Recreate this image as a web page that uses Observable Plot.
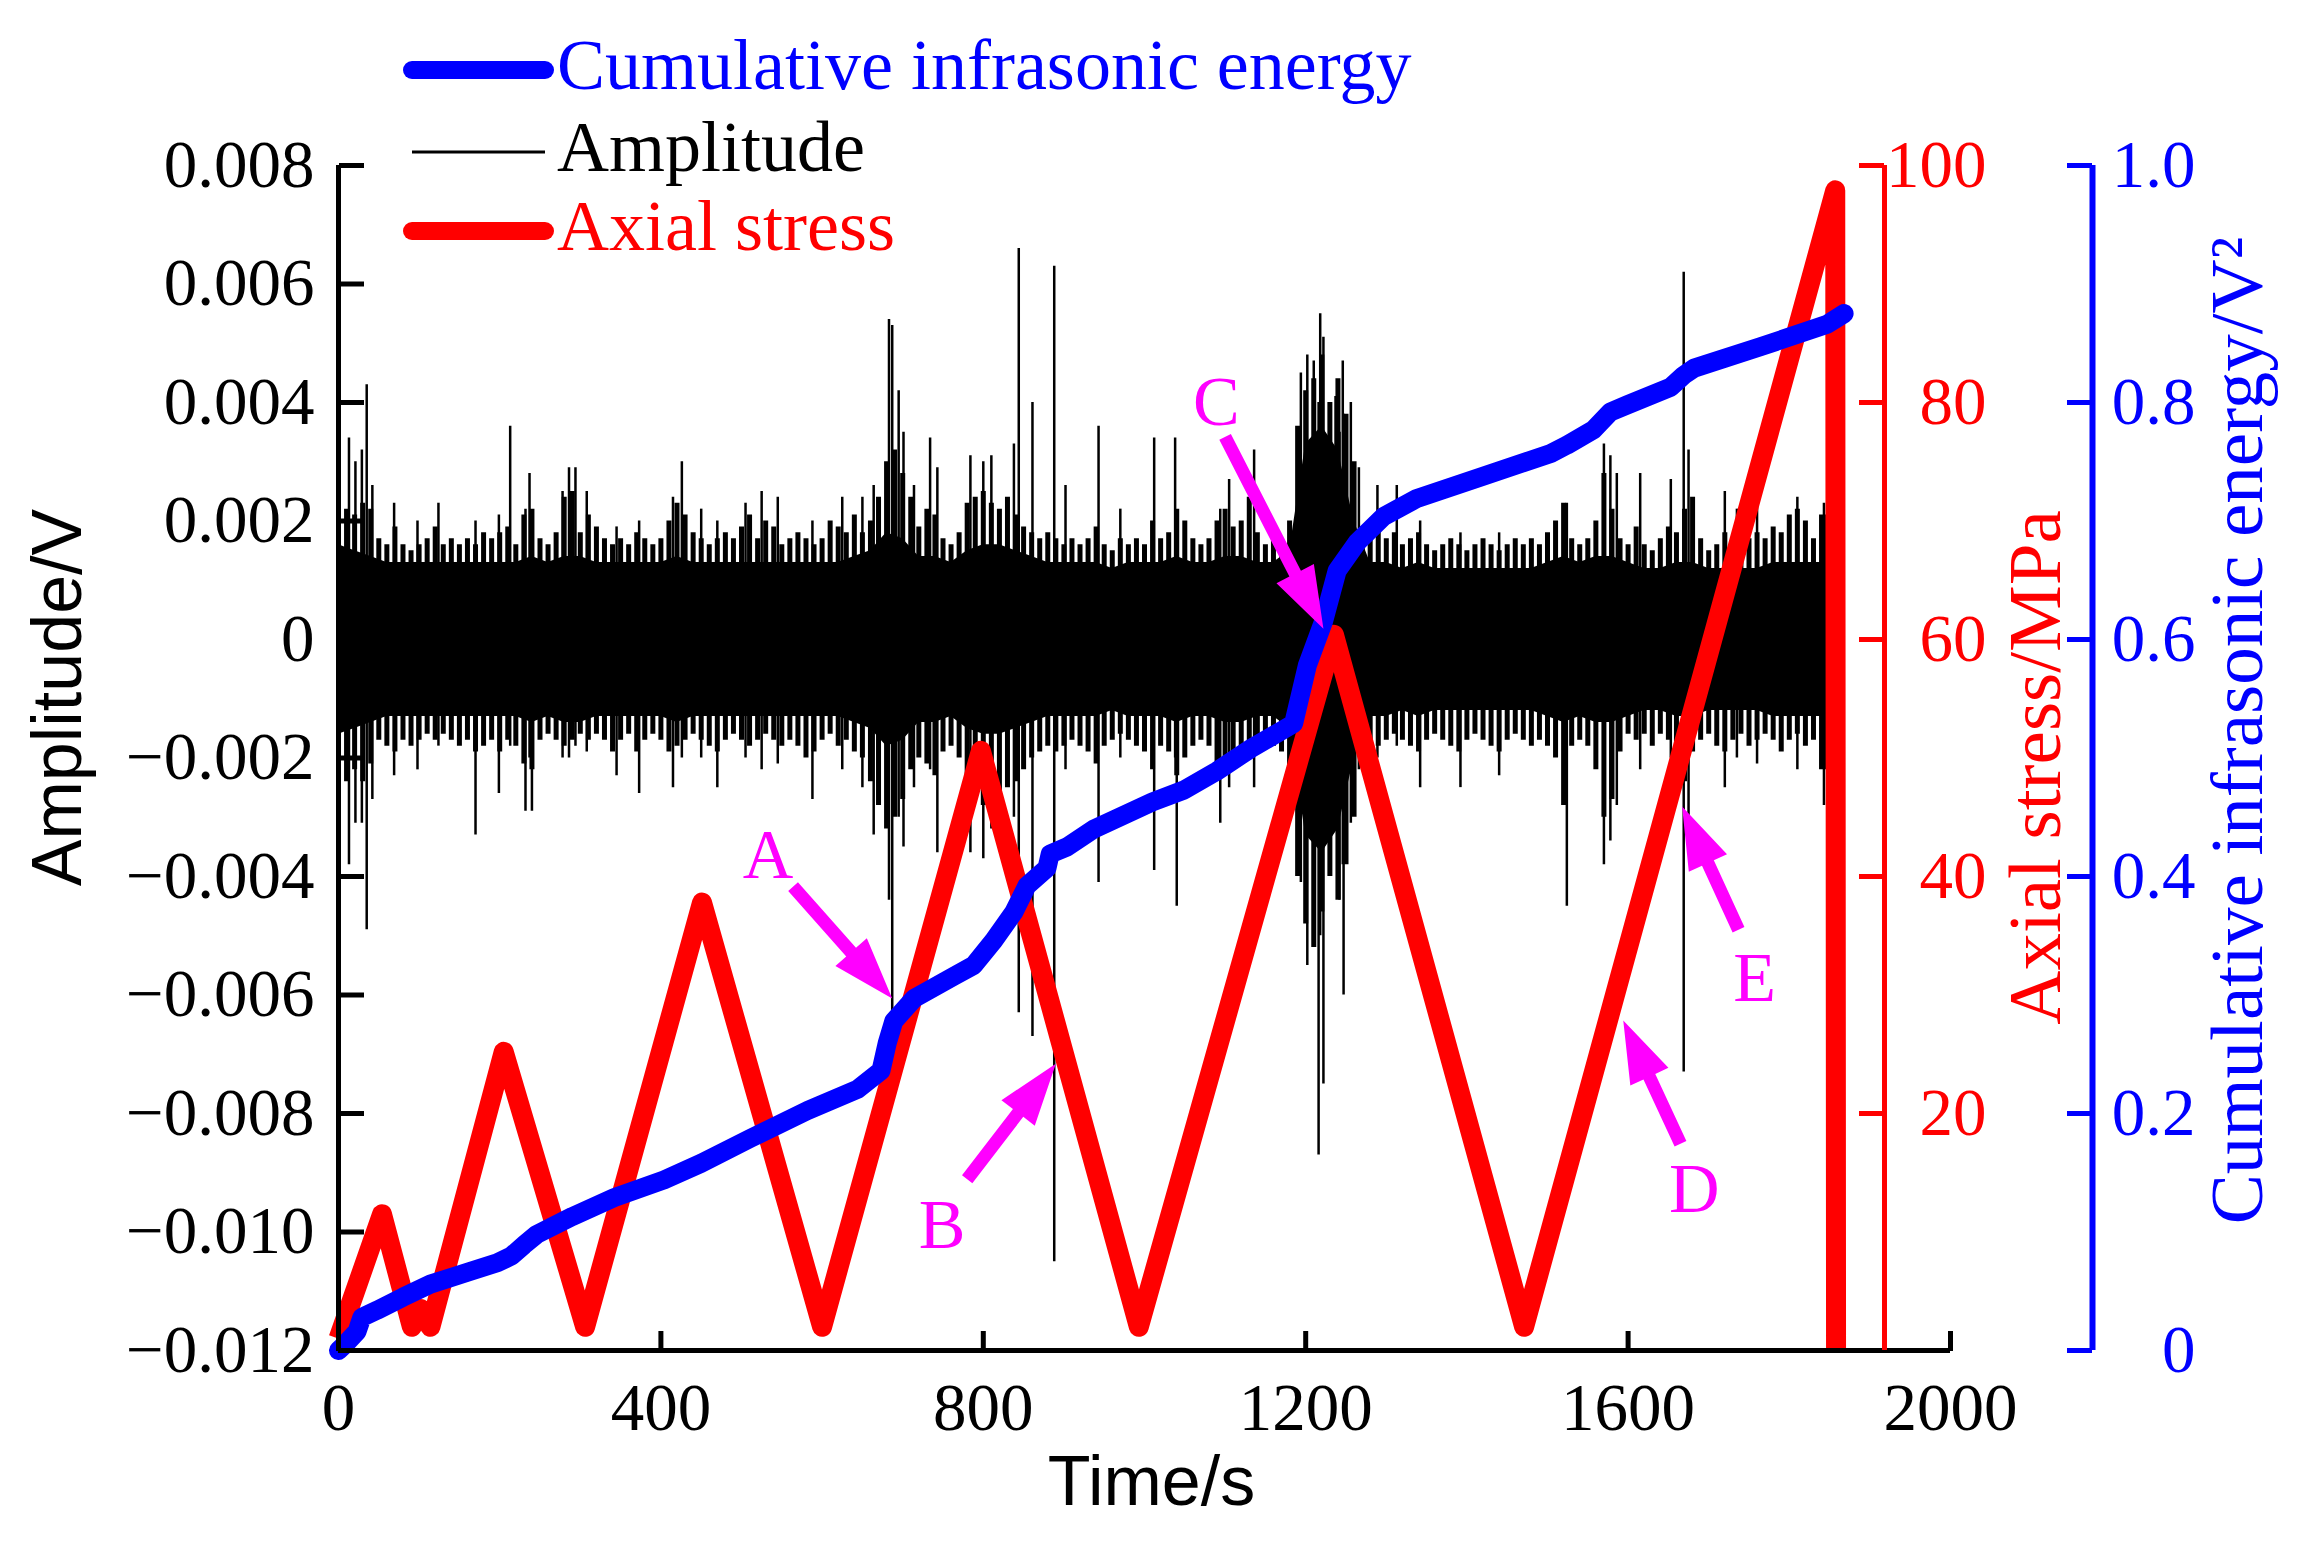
<!DOCTYPE html>
<html><head><meta charset="utf-8">
<script src="https://cdn.jsdelivr.net/npm/d3@7"></script>
<script src="https://cdn.jsdelivr.net/npm/@observablehq/plot@0.6"></script>
<style>html,body{margin:0;padding:0;background:#fff;overflow:hidden}#chart svg{display:block}</style>
</head><body><div id="chart"></div>
<script>
// ---------------- data ----------------
// Axial stress (MPa) vs time (s)
const stressT = [0, 54, 91, 102, 114, 205, 306, 451, 600, 797, 993, 1235, 1471, 1857, 1858];
const stressS = [1, 11.5, 2, 3.5, 2, 25.2, 2, 37.8, 2, 50.6, 2, 60.4, 2, 97.9, 0];
// Cumulative infrasonic energy (V^2) vs time (s)
const energyT = [0,8,23,29,48,80,114,160,197,215,230,246,290,342,404,450,511,582,644,673,681,689,714,764,788,813,838,854,879,883,904,937,1010,1049,1090,1132,1185,1202,1222,1239,1264,1297,1338,1421,1504,1524,1557,1578,1599,1653,1669,1682,1764,1847,1868];
const energyE = [0,0.005,0.016,0.028,0.034,0.045,0.056,0.066,0.074,0.080,0.089,0.098,0.113,0.129,0.144,0.158,0.179,0.2025,0.2205,0.236,0.260,0.278,0.297,0.316,0.325,0.346,0.370,0.392,0.407,0.419,0.425,0.440,0.463,0.473,0.489,0.508,0.529,0.578,0.615,0.658,0.682,0.704,0.719,0.738,0.757,0.764,0.777,0.792,0.798,0.813,0.823,0.829,0.847,0.866,0.875];
// Amplitude: half-width of the mostly-black core every 20 s from 0 s (units: 1e-4 V)
const coreHalf = [16,15,14,13,13,13,13,13,13,13, 13,13,14,13,14,14,13,13,13,13, 13,14,13,13,13,13,13,13,13,13,
 13,13,14,15,18,17,14,14,13,15, 16,16,15,14,13,13,13,13,12,13, 13,13,14,13,13,14,14,13,13,15,
 33,36,32,20,13,13,12,13,12,12, 12,12,12,12,12,13,14,13,14,14, 13,12,12,13,13,12,12,12,12,13, 13,13,13];
// Amplitude: fringe tips every 10 s from 0 s (units: 1e-4 V)
const envHigh = [19,22,21,23,22,17,16,19,16,15, 16,17,19,16,17,16,17,16,18,17, 18,19,16,21,22,17,16,18,24,25, 18,21,19,17,16,17,16,18,17,16,
 17,20,23,21,18,17,16,17,18,17, 19,21,17,20,19,16,17,18,17,16, 17,20,19,18,21,18,20,24,30,32, 28,24,19,22,21,17,16,18,23,24,
 25,23,22,24,21,19,18,17,18,17, 16,17,16,17,19,16,15,17,16,17, 16,20,17,18,22,20,17,16,17,20, 22,19,20,24,18,16,17,16,20,36,
 42,44,48,40,44,38,30,19,17,19, 17,18,16,17,18,16,15,16,17,16, 15,16,17,16,15,16,17,16,17,16, 18,20,23,17,16,17,20,28,22,17,
 16,19,16,15,17,19,18,22,24,17, 15,16,18,16,15,17,18,17,19,18, 21,22,20,17,21];
const envLow = [-20,-24,-22,-24,-21,-17,-18,-19,-17,-18, -17,-16,-17,-16,-17,-18,-17,-19,-18,-17, -19,-17,-18,-21,-22,-17,-16,-17,-18,-17, -16,-17,-16,-17,-19,-17,-16,-19,-17,-16,
 -17,-19,-18,-17,-16,-17,-18,-19,-17,-16, -17,-18,-17,-16,-17,-18,-17,-18,-20,-19, -17,-16,-18,-17,-19,-20,-24,-28,-32,-30, -27,-22,-20,-21,-23,-19,-18,-20,-25,-26,
 -28,-27,-26,-25,-24,-22,-20,-19,-18,-19, -18,-17,-18,-19,-21,-18,-17,-16,-17,-18, -19,-22,-18,-19,-23,-20,-18,-17,-18,-22, -21,-19,-18,-20,-19,-17,-18,-19,-22,-40,
 -48,-52,-46,-40,-44,-38,-30,-18,-17,-18, -17,-16,-17,-18,-19,-17,-16,-17,-18,-19, -17,-16,-17,-18,-19,-17,-16,-17,-18,-17, -18,-20,-28,-18,-17,-18,-22,-30,-27,-19,
 -16,-17,-16,-18,-16,-17,-18,-24,-19,-17, -16,-18,-19,-17,-16,-18,-17,-16,-17,-19, -17,-16,-18,-17,-22];
const envEndT = 1846;
// Individual amplitude spikes (time s, top and bottom in 1e-4 V)
const spikeT = [13,21,29,35,42,69,98,124,170,199,213,232,237,240,278,286,294,308,345,373,415,426,450,470,505,525,545,588,625,650,664,683,687,695,701,714,734,743,784,800,810,838,844,861,888,902,943,970,1012,1038,1040,1094,1105,1136,1194,1202,1210,1216,1218,1222,1237,1242,1246,1247,1256,1266,1289,1313,1342,1392,1440,1524,1570,1578,1586,1615,1653,1669,1675,1720,1735,1760,1810,1843];
const spikeHi = [34,30,32,43,26,23,20,23,20,21,36,22,28,20,25,29,29,25,19,20,24,30,22,20,23,25,24,20,24,24,26,54,53,42,35,26,34,29,31,30,31,33,66,40,63,26,36,22,34,34,20,22,27,32,45,48,47,40,55,51,41,35,47,38,40,29,26,26,20,18,18,23,33,31,28,28,27,62,32,25,22,23,24,23];
const spikeLo = [-38,-31,-31,-49,-27,-23,-22,-18,-33,-26,-18,-29,-20,-29,-20,-20,-18,-19,-23,-26,-25,-20,-20,-25,-20,-22,-21,-27,-22,-25,-33,-44,-64,-30,-35,-25,-22,-36,-36,-37,-32,-30,-63,-67,-105,-22,-41,-20,-39,-20,-45,-31,-25,-25,-41,-55,-48,-87,-50,-75,-30,-44,-38,-60,-31,-22,-20,-18,-25,-25,-23,-45,-38,-34,-28,-22,-20,-73,-30,-25,-20,-21,-22,-28];
// Annotations (time s, amplitude V)
const annLabel = ["A","B","C","D","E"];
const annTextT = [533, 749, 1089, 1682, 1757];
const annTextV = [-0.00365, -0.00989, 0.00399, -0.00928, -0.00573];
const annFromT = [564, 780, 1100, 1665, 1737];
const annFromV = [-0.00417, -0.00911, 0.00342, -0.00851, -0.00490];
const annToT = [687, 890, 1222, 1594, 1667];
const annToV = [-0.00606, -0.00716, 0.00018, -0.00643, -0.00282];
// Axes ticks and labels
const xTicks = [0, 400, 800, 1200, 1600, 2000];
const ampTicks = [0.008, 0.006, 0.004, 0.002, 0, -0.002, -0.004, -0.006, -0.008, -0.010, -0.012];
const ampTickLabels = ["0.008","0.006","0.004","0.002","0","\u22120.002","\u22120.004","\u22120.006","\u22120.008","\u22120.010","\u22120.012"];
const stressTicks = [20, 40, 60, 80, 100];
const energyTicks = [0, 0.2, 0.4, 0.6, 0.8, 1.0];
const energyTickLabels = ["0","0.2","0.4","0.6","0.8","1.0"];
const legendLabels = ["Cumulative infrasonic energy", "Amplitude", "Axial stress"];
const titleX = "Time/s", titleY = "Amplitude/V", titleStress = "Axial stress/MPa", titleEnergy = "Cumulative infrasonic energy/V\u00B2";

// ---------------- layout / style ----------------
const W = 2302, H = 1547, mL = 338, mR = 352, mT = 165, mB = 197;
const frameW = W - mL - mR, frameH = H - mT - mB;
const AMP_MIN = -0.012, AMP_MAX = 0.008, T_MAX = 2000;
const RED = "#ff0000", BLUE = "#0000ff", MAG = "#ff00ff";
const SERIF = "Liberation Serif", SANS = "Liberation Sans";
const RED_AXIS_PX = 1884, RED_LABEL_END = 1986, BLUE_AXIS_PX = 2092, BLUE_LABEL_END = 2195;
const kx = frameW / T_MAX, ky = frameH / (AMP_MAX - AMP_MIN);
const sToAmp = s => AMP_MIN + (s / 100) * (AMP_MAX - AMP_MIN);
const eToAmp = e => AMP_MIN + e * (AMP_MAX - AMP_MIN);

// ---------------- tables ----------------
const stress = stressT.map((t, i) => ({t, v: sToAmp(stressS[i])}));
const energy = energyT.map((t, i) => ({t, v: eToAmp(energyE[i])}));
const core = coreHalf.map((c, i) => ({t: i * 20, c: c * 1e-4}));
core.push({t: envEndT, c: coreHalf[coreHalf.length - 1] * 1e-4});
const env = envHigh.map((h, i) => ({t: i * 10, hi: h * 1e-4, lo: envLow[i] * 1e-4}));
env.push({t: envEndT, hi: envHigh[envHigh.length - 1] * 1e-4, lo: envLow[envLow.length - 1] * 1e-4});
const spikes = spikeT.map((t, i) => ({t, hi: spikeHi[i] * 1e-4, lo: spikeLo[i] * 1e-4}));
const ann = annLabel.map((label, i) => ({label, tt: annTextT[i], tv: annTextV[i], ft: annFromT[i], fv: annFromV[i], et: annToT[i], ev: annToV[i]}));

const ampLbl = new Map(ampTicks.map((d, i) => [d, ampTickLabels[i]]));
const stressTickAmp = stressTicks.map(sToAmp);
const stressLbl = new Map(stressTicks.map(s => [sToAmp(s), String(s)]));
const energyTickAmp = energyTicks.map(eToAmp);
const energyLbl = new Map(energyTicks.map((e, i) => [eToAmp(e), energyTickLabels[i]]));

const arrowShape = {
  draw(context, l) {
    const hl = 62, hw = 21, sw = 6.5;
    context.moveTo(-sw, 0);
    context.lineTo(-sw, -(l - hl));
    context.lineTo(-hw, -(l - hl));
    context.lineTo(0, -l);
    context.lineTo(hw, -(l - hl));
    context.lineTo(sw, -(l - hl));
    context.lineTo(sw, 0);
    context.closePath();
  }
};
const arrowMarks = ann.map(d => Plot.vector([d], {
  x: "ft", y: "fv", anchor: "start", shape: arrowShape, fill: MAG, stroke: "none",
  length: Math.hypot((d.et - d.ft) * kx, (d.ev - d.fv) * ky),
  rotate: Math.atan2((d.et - d.ft) * kx, (d.ev - d.fv) * ky) * 180 / Math.PI
}));

const axisFont = {fontSize: 67, fontFamily: SERIF};
const midY = mT + frameH / 2, midX = mL + frameW / 2;

const chart = Plot.plot({
  width: W, height: H,
  marginLeft: mL, marginRight: mR, marginTop: mT, marginBottom: mB,
  x: {domain: [0, T_MAX], axis: null},
  y: {domain: [AMP_MIN, AMP_MAX], axis: null},
  style: {fontFamily: SERIF, background: "white", overflow: "visible"},
  marks: [
    // amplitude: solid core, fringe comb, isolated spikes
    Plot.areaY(core, {x: "t", y1: d => -d.c, y2: d => d.c, fill: "black", curve: "linear"}),
    Plot.ruleX(env, {x: "t", y1: "lo", y2: "hi", stroke: "black", strokeWidth: 5}),
    Plot.ruleX(spikes, {x: "t", y1: "lo", y2: "hi", stroke: "black", strokeWidth: 2.5}),
    // axial stress
    Plot.line(stress, {x: "t", y: "v", stroke: RED, strokeWidth: 20, strokeLinejoin: "round", strokeLinecap: "butt"}),
    // cumulative energy
    Plot.line(energy, {x: "t", y: "v", stroke: BLUE, strokeWidth: 19, strokeLinejoin: "round", strokeLinecap: "round"}),
    // annotations
    ...arrowMarks,
    Plot.text(ann, {x: "tt", y: "tv", text: "label", fill: MAG, fontSize: 70, fontFamily: SERIF}),
    // left axis
    Plot.ruleX([0], {strokeWidth: 5}),
    Plot.axisY({anchor: "right", ticks: ampTicks, tickSize: 25, strokeWidth: 5, dx: -frameW, tickFormat: () => "", label: null}),
    Plot.axisY({anchor: "left", ticks: ampTicks, tickSize: 0, tickPadding: 24, tickFormat: d => ampLbl.get(d), label: null, fill: "black", ...axisFont}),
    // bottom axis
    Plot.ruleY([AMP_MIN], {strokeWidth: 5}),
    Plot.axisX({anchor: "top", ticks: xTicks, tickSize: 20, strokeWidth: 5, dy: frameH, tickFormat: () => "", label: null}),
    Plot.axisX({anchor: "bottom", ticks: xTicks, tickSize: 0, tickPadding: 32, tickFormat: d => String(d), label: null, fill: "black", ...axisFont}),
    // red axis (stress)
    Plot.ruleX([0], {dx: RED_AXIS_PX - mL, stroke: RED, strokeWidth: 5}),
    Plot.axisY({anchor: "left", ticks: stressTickAmp, tickSize: 25, dx: RED_AXIS_PX - mL, stroke: RED, strokeWidth: 5, tickFormat: () => "", label: null}),
    Plot.axisY({anchor: "left", ticks: stressTickAmp, tickSize: 0, tickPadding: 0, dx: RED_LABEL_END - mL, textAnchor: "end", fill: RED, tickFormat: d => stressLbl.get(d), label: null, ...axisFont}),
    // blue axis (energy)
    Plot.ruleX([0], {dx: BLUE_AXIS_PX - mL, stroke: BLUE, strokeWidth: 6}),
    Plot.axisY({anchor: "left", ticks: energyTickAmp, tickSize: 25, dx: BLUE_AXIS_PX - mL, stroke: BLUE, strokeWidth: 5, tickFormat: () => "", label: null}),
    Plot.axisY({anchor: "left", ticks: energyTickAmp, tickSize: 0, tickPadding: 0, dx: BLUE_LABEL_END - mL, textAnchor: "end", fill: BLUE, tickFormat: d => energyLbl.get(d), label: null, ...axisFont}),
    // titles
    Plot.text([titleY], {text: d => d, frameAnchor: "left", textAnchor: "middle", rotate: -90, dx: 58 - mL, dy: 697 - midY, fontSize: 70, fontFamily: SANS, fill: "black"}),
    Plot.text([titleX], {text: d => d, frameAnchor: "bottom", textAnchor: "middle", dx: 1151 - midX, dy: 154, fontSize: 70, fontFamily: SANS, fill: "black"}),
    Plot.text([titleStress], {text: d => d, frameAnchor: "right", textAnchor: "middle", rotate: -90, dx: 2035 - (W - mR), dy: 767 - midY, fontSize: 75, fontFamily: SERIF, fill: RED}),
    Plot.text([titleEnergy], {text: d => d, frameAnchor: "right", textAnchor: "middle", rotate: -90, dx: 2237 - (W - mR), dy: 730 - midY, fontSize: 75, fontFamily: SERIF, fill: BLUE})
  ]
});

// legend (top-left, above the frame)
const svg = d3.select(chart);
const legColors = [BLUE, "black", RED];
const legWidths = [18, 3, 18];
const legY = [70, 152, 231];
const lg = svg.append("g").attr("class", "legend");
legendLabels.forEach((label, i) => {
  lg.append("line").attr("x1", 412).attr("x2", 545).attr("y1", legY[i]).attr("y2", legY[i])
    .attr("stroke", legColors[i]).attr("stroke-width", legWidths[i]).attr("stroke-linecap", legWidths[i] > 5 ? "round" : "butt");
  lg.append("text").attr("x", 557).attr("y", legY[i] + 19).attr("fill", legColors[i])
    .attr("text-anchor", "start").attr("font-family", SERIF).attr("font-size", 72).text(label);
});

document.getElementById("chart").appendChild(chart);
</script>
</body></html>
